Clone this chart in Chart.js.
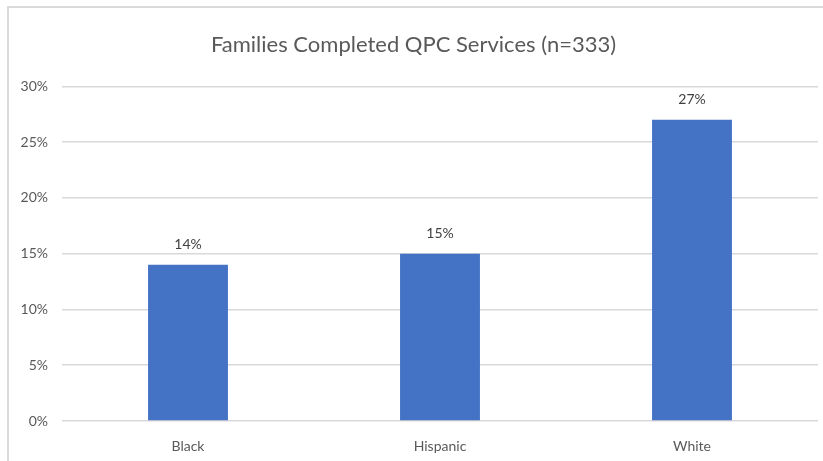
<!DOCTYPE html>
<html>
<head>
<meta charset="utf-8">
<script src="https://cdn.jsdelivr.net/npm/chart.js@4"></script>
<style>
    html, body { margin: 0; padding: 0; background: #fff; }
    #frame {
        position: absolute;
        left: 7px;
        top: 6px;
        width: 816px;
        height: 455px;
        border-top: 2px solid #d9d9d9;
        border-left: 2px solid #d9d9d9;
    }
    #wrap { position: absolute; left: 0; top: 0; width: 814px; height: 453px; }
</style>
</head>
<body>
<div id="frame"><div id="wrap"><canvas id="chart"></canvas></div></div>
<script>
const categories = ["Black", "Hispanic", "White"];
const completedPct = [14, 15, 27];
const yTicks = [0, 5, 10, 15, 20, 25, 30];

// draw "14%" etc above each bar
const valueLabels = {
    id: 'valueLabels',
    afterDatasetsDraw(chart) {
        const ctx = chart.ctx;
        ctx.save();
        ctx.font = '14px Lato, "Open Sans", sans-serif';
        ctx.fillStyle = '#404040';
        ctx.textAlign = 'center';
        ctx.textBaseline = 'middle';
        chart.getDatasetMeta(0).data.forEach((bar, i) => {
            ctx.fillText(completedPct[i] + '%', bar.x, bar.y - 20);
        });
        ctx.restore();
    }
};

new Chart(document.getElementById('chart'), {
    type: 'bar',
    data: {
        labels: categories,
        datasets: [{
            label: 'Completed',
            data: completedPct,
            backgroundColor: '#4472c4',
            categoryPercentage: 1,
            barPercentage: 0.317
        }]
    },
    options: {
        responsive: true,
        maintainAspectRatio: false,
        animation: false,
        layout: { padding: { left: 0, right: 5, top: 0, bottom: 0 } },
        plugins: {
            legend: { display: false },
            tooltip: { enabled: false },
            title: {
                display: true,
                text: 'Families Completed QPC Services (n=333)',
                color: '#595959',
                font: { family: 'Lato, "Open Sans", sans-serif', size: 22, weight: 'normal' },
                padding: { top: 24, bottom: 28 }
            }
        },
        scales: {
            x: {
                grid: { display: false, drawTicks: false },
                border: { display: false },
                ticks: {
                    color: '#595959',
                    font: { family: 'Lato, "Open Sans", sans-serif', size: 14 },
                    padding: 17
                },
                afterFit(scale) { scale.height = 40; }
            },
            y: {
                min: 0,
                max: 30,
                afterBuildTicks(scale) { scale.ticks = yTicks.map(v => ({ value: v })); },
                grid: { color: '#d9d9d9', lineWidth: 1.5, drawTicks: false },
                border: { display: false },
                ticks: {
                    color: '#595959',
                    font: { family: 'Lato, "Open Sans", sans-serif', size: 14 },
                    padding: 14,
                    callback: v => v + '%'
                },
                afterFit(scale) { scale.width = 53; }
            }
        }
    },
    plugins: [valueLabels]
});
</script>
</body>
</html>
